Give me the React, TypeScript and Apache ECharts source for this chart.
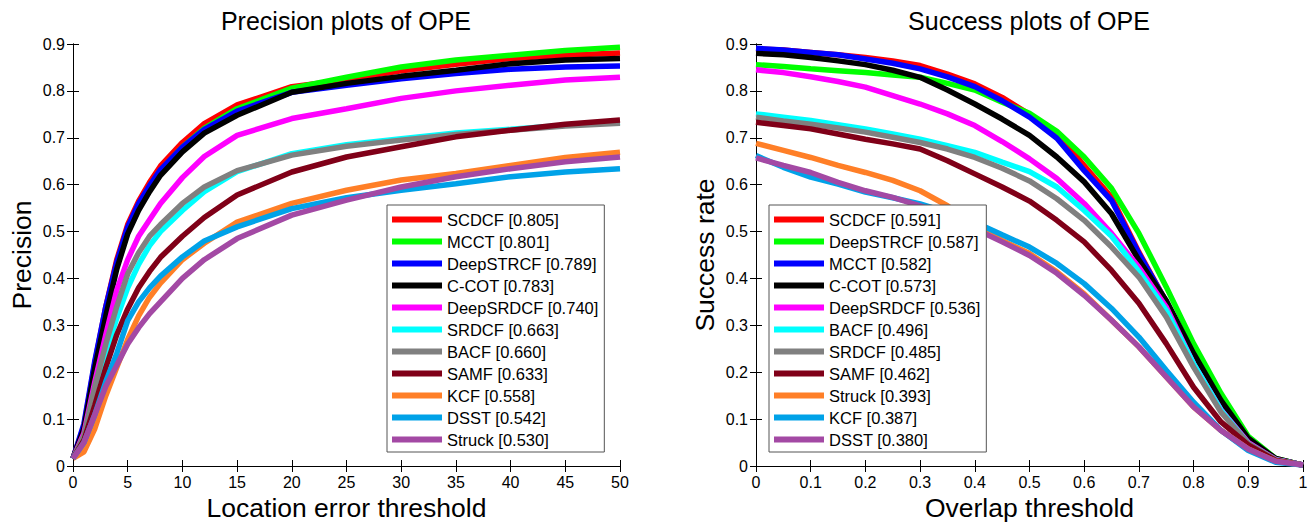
import React, { useEffect, useRef } from "react";
import * as echarts from "echarts";

const FONT = "'Liberation Sans', Arial, Helvetica, sans-serif";

// ---------- Precision plot (left) ----------
const PREC_X = [0, 1, 2, 3, 4, 5, 6, 7, 8, 10, 12, 15, 20, 25, 30, 35, 40, 45, 50];
const PREC_NAMES = [
  "SCDCF [0.805]", "MCCT [0.801]", "DeepSTRCF [0.789]", "C-COT [0.783]", "DeepSRDCF [0.740]",
  "SRDCF [0.663]", "BACF [0.660]", "SAMF [0.633]", "KCF [0.558]", "DSST [0.542]", "Struck [0.530]",
];
const precSCDCF = [0.016, 0.085, 0.22, 0.34, 0.44, 0.515, 0.565, 0.605, 0.64, 0.69, 0.73, 0.77, 0.809, 0.824, 0.843, 0.857, 0.869, 0.876, 0.881];
const precMCCT = [0.016, 0.08, 0.21, 0.33, 0.43, 0.505, 0.555, 0.595, 0.63, 0.68, 0.72, 0.762, 0.806, 0.829, 0.851, 0.866, 0.876, 0.886, 0.893];
const precDeepSTRCF = [0.016, 0.09, 0.225, 0.34, 0.435, 0.51, 0.56, 0.598, 0.632, 0.68, 0.718, 0.757, 0.797, 0.812, 0.826, 0.837, 0.846, 0.851, 0.853];
const precCCOT = [0.016, 0.08, 0.21, 0.32, 0.42, 0.495, 0.545, 0.585, 0.62, 0.67, 0.71, 0.748, 0.797, 0.816, 0.831, 0.844, 0.858, 0.866, 0.869];
const precDeepSRDCF = [0.016, 0.07, 0.18, 0.28, 0.375, 0.44, 0.49, 0.525, 0.56, 0.615, 0.66, 0.705, 0.741, 0.762, 0.784, 0.8, 0.812, 0.823, 0.829];
const precSRDCF = [0.016, 0.06, 0.15, 0.24, 0.315, 0.38, 0.43, 0.47, 0.5, 0.545, 0.585, 0.628, 0.666, 0.685, 0.698, 0.71, 0.718, 0.727, 0.733];
const precBACF = [0.016, 0.065, 0.17, 0.26, 0.34, 0.41, 0.455, 0.49, 0.515, 0.56, 0.595, 0.63, 0.663, 0.682, 0.695, 0.707, 0.716, 0.725, 0.731];
const precSAMF = [0.016, 0.055, 0.13, 0.21, 0.28, 0.335, 0.38, 0.415, 0.445, 0.49, 0.53, 0.578, 0.627, 0.659, 0.681, 0.702, 0.716, 0.729, 0.738];
const precKCF = [0.016, 0.03, 0.08, 0.15, 0.21, 0.27, 0.32, 0.36, 0.39, 0.44, 0.475, 0.52, 0.56, 0.588, 0.61, 0.624, 0.641, 0.658, 0.669];
const precDSST = [0.016, 0.05, 0.11, 0.18, 0.24, 0.31, 0.35, 0.38, 0.405, 0.446, 0.48, 0.51, 0.549, 0.572, 0.588, 0.602, 0.617, 0.627, 0.634];
const precStruck = [0.016, 0.05, 0.11, 0.17, 0.215, 0.26, 0.295, 0.325, 0.35, 0.4, 0.44, 0.485, 0.535, 0.567, 0.595, 0.617, 0.634, 0.649, 0.659];
const PREC_VALUES = [precSCDCF, precMCCT, precDeepSTRCF, precCCOT, precDeepSRDCF, precSRDCF, precBACF, precSAMF, precKCF, precDSST, precStruck];

// ---------- Success plot (right) ----------
const SUCC_X = [0, 0.05, 0.1, 0.15, 0.2, 0.25, 0.3, 0.35, 0.4, 0.45, 0.5, 0.55, 0.6, 0.65, 0.7, 0.75, 0.8, 0.85, 0.9, 0.95, 1];
const SUCC_NAMES = [
  "SCDCF [0.591]", "DeepSTRCF [0.587]", "MCCT [0.582]", "C-COT [0.573]", "DeepSRDCF [0.536]",
  "BACF [0.496]", "SRDCF [0.485]", "SAMF [0.462]", "Struck [0.393]", "KCF [0.387]", "DSST [0.380]",
];
const succSCDCF = [0.889, 0.887, 0.882, 0.877, 0.871, 0.864, 0.854, 0.836, 0.815, 0.786, 0.75, 0.71, 0.641, 0.573, 0.456, 0.35, 0.235, 0.135, 0.058, 0.015, 0.002];
const succDeepSTRCF = [0.856, 0.852, 0.847, 0.843, 0.839, 0.834, 0.829, 0.816, 0.802, 0.776, 0.752, 0.714, 0.659, 0.592, 0.496, 0.382, 0.261, 0.155, 0.063, 0.016, 0.002];
const succMCCT = [0.891, 0.887, 0.882, 0.877, 0.868, 0.859, 0.847, 0.83, 0.809, 0.779, 0.744, 0.699, 0.63, 0.566, 0.453, 0.35, 0.232, 0.13, 0.055, 0.014, 0.002];
const succCCOT = [0.88, 0.877, 0.871, 0.864, 0.856, 0.844, 0.829, 0.802, 0.772, 0.74, 0.705, 0.659, 0.606, 0.538, 0.439, 0.353, 0.24, 0.14, 0.059, 0.016, 0.002];
const succDeepSRDCF = [0.845, 0.839, 0.83, 0.82, 0.808, 0.79, 0.772, 0.751, 0.726, 0.692, 0.655, 0.613, 0.56, 0.496, 0.424, 0.339, 0.218, 0.12, 0.05, 0.014, 0.002];
const succBACF = [0.751, 0.744, 0.737, 0.728, 0.719, 0.708, 0.697, 0.683, 0.669, 0.648, 0.628, 0.595, 0.545, 0.49, 0.415, 0.332, 0.218, 0.119, 0.048, 0.013, 0.002];
const succSRDCF = [0.744, 0.736, 0.729, 0.721, 0.712, 0.701, 0.69, 0.676, 0.658, 0.635, 0.608, 0.57, 0.524, 0.467, 0.403, 0.318, 0.211, 0.115, 0.048, 0.013, 0.002];
const succSAMF = [0.733, 0.726, 0.719, 0.708, 0.697, 0.687, 0.676, 0.651, 0.623, 0.595, 0.565, 0.524, 0.478, 0.417, 0.347, 0.261, 0.168, 0.094, 0.045, 0.012, 0.002];
const succStruck = [0.688, 0.673, 0.658, 0.641, 0.626, 0.609, 0.587, 0.555, 0.513, 0.481, 0.453, 0.414, 0.367, 0.311, 0.254, 0.19, 0.126, 0.076, 0.036, 0.01, 0.002];
const succKCF = [0.662, 0.637, 0.616, 0.601, 0.584, 0.572, 0.559, 0.541, 0.52, 0.493, 0.467, 0.432, 0.389, 0.336, 0.275, 0.204, 0.136, 0.076, 0.033, 0.008, 0.002];
const succDSST = [0.657, 0.641, 0.626, 0.605, 0.587, 0.573, 0.555, 0.534, 0.506, 0.478, 0.449, 0.411, 0.364, 0.311, 0.254, 0.19, 0.126, 0.076, 0.036, 0.01, 0.002];
const SUCC_VALUES = [succSCDCF, succDeepSTRCF, succMCCT, succCCOT, succDeepSRDCF, succBACF, succSRDCF, succSAMF, succStruck, succKCF, succDSST];

const RANK_COLORS = ["#ff0000", "#00ff00", "#0000ff", "#000000", "#ff00ff", "#00ffff", "#808080", "#800018", "#ff7f27", "#00a2e8", "#a349a4"];
const PREC_COLORS = RANK_COLORS;
const SUCC_COLORS = RANK_COLORS;

const PREC_TICKS = { min: 0, max: 50, interval: 5 };
const SUCC_TICKS = { min: 0, max: 1, interval: 0.1 };
const Y_TICKS = { min: 0, max: 0.9, interval: 0.1 };

const TICK_FONT = 16;
const NAME_FONT = 26.5;

function mainX(grid: number, t: any, name: string) {
  return {
    type: "value", gridIndex: grid, position: "bottom", ...t,
    axisLine: { show: true, lineStyle: { color: "#000", width: 1 } },
    axisTick: { show: true, inside: true, length: 6, lineStyle: { color: "#000" } },
    axisLabel: { color: "#000", fontSize: TICK_FONT, fontFamily: FONT, margin: 8 },
    splitLine: { show: false },
    name, nameLocation: "middle", nameGap: 28,
    nameTextStyle: { color: "#000", fontSize: NAME_FONT, fontFamily: FONT },
  };
}
function topX(grid: number, t: any) {
  return {
    type: "value", gridIndex: grid, position: "top", ...t,
    axisLine: { show: true, lineStyle: { color: "#000", width: 1 } },
    axisTick: { show: true, inside: true, length: 6, lineStyle: { color: "#000" } },
    axisLabel: { show: false }, splitLine: { show: false },
  };
}
function mainY(grid: number, name: string) {
  return {
    type: "value", gridIndex: grid, position: "left", ...Y_TICKS,
    axisLine: { show: true, lineStyle: { color: "#000", width: 1 } },
    axisTick: { show: true, inside: true, length: 6, lineStyle: { color: "#000" } },
    axisLabel: { color: "#000", fontSize: TICK_FONT, fontFamily: FONT, margin: 8 },
    splitLine: { show: false },
    name, nameLocation: "middle", nameGap: 38, nameRotate: 90,
    nameTextStyle: { color: "#000", fontSize: NAME_FONT, fontFamily: FONT },
  };
}
function rightY(grid: number) {
  return {
    type: "value", gridIndex: grid, position: "right", ...Y_TICKS,
    axisLine: { show: true, lineStyle: { color: "#000", width: 1 } },
    axisTick: { show: true, inside: true, length: 6, lineStyle: { color: "#000" } },
    axisLabel: { show: false }, splitLine: { show: false },
  };
}
function legendFor(names: string[], left: number, top: number) {
  return {
    orient: "vertical", left, top, selectedMode: false,
    data: names.map((n) => ({ name: n, icon: "rect" })),
    itemWidth: 50, itemHeight: 6, itemGap: 5,
    padding: [6, 6, 4, 5],
    backgroundColor: "#fff", borderColor: "#555", borderWidth: 1, borderRadius: 0,
    textStyle: { color: "#000", fontSize: 16.5, lineHeight: 16, fontFamily: FONT },
    z: 10,
  };
}

export default function App() {
  const ref = useRef<HTMLDivElement>(null);
  useEffect(() => {
    if (!ref.current) return;
    const chart = echarts.init(ref.current, null, { renderer: "svg" });
    const series: any[] = [];
    PREC_NAMES.forEach((n, i) => {
      series.push({
        type: "line", name: n, xAxisIndex: 0, yAxisIndex: 0, symbol: "none",
        data: PREC_X.map((x, k) => [x, PREC_VALUES[i][k]]),
        lineStyle: { width: 5.5, color: PREC_COLORS[i] }, itemStyle: { color: PREC_COLORS[i] },
        z: 2,
      });
    });
    SUCC_NAMES.forEach((n, i) => {
      series.push({
        type: "line", name: n, xAxisIndex: 2, yAxisIndex: 2, symbol: "none",
        data: SUCC_X.map((x, k) => [x, SUCC_VALUES[i][k]]),
        lineStyle: { width: 5.5, color: SUCC_COLORS[i] }, itemStyle: { color: SUCC_COLORS[i] },
        z: 2,
      });
    });
    chart.setOption({
      animation: false,
      textStyle: { fontFamily: FONT },
      grid: [
        { left: 73, top: 44, width: 547, height: 422 },
        { left: 756, top: 44, width: 547, height: 422 },
      ],
      xAxis: [
        mainX(0, PREC_TICKS, "Location error threshold"), topX(0, PREC_TICKS),
        mainX(1, SUCC_TICKS, "Overlap threshold"), topX(1, SUCC_TICKS),
      ],
      yAxis: [mainY(0, "Precision"), rightY(0), mainY(1, "Success rate"), rightY(1)],
      legend: [legendFor(PREC_NAMES, 387, 205), legendFor(SUCC_NAMES, 769, 205)],
      graphic: [
        { type: "text", x: 346, y: 21, style: { text: "Precision plots of OPE", fill: "#000", fontSize: 25, fontFamily: FONT, textAlign: "center", textVerticalAlign: "middle" } },
        { type: "text", x: 1029, y: 21, style: { text: "Success plots of OPE", fill: "#000", fontSize: 25, fontFamily: FONT, textAlign: "center", textVerticalAlign: "middle" } },
      ],
      series,
    });
    return () => chart.dispose();
  }, []);
  return <div ref={ref} style={{ position: "absolute", left: 0, top: 0, width: 1314, height: 530, background: "#fff" }} />;
}
